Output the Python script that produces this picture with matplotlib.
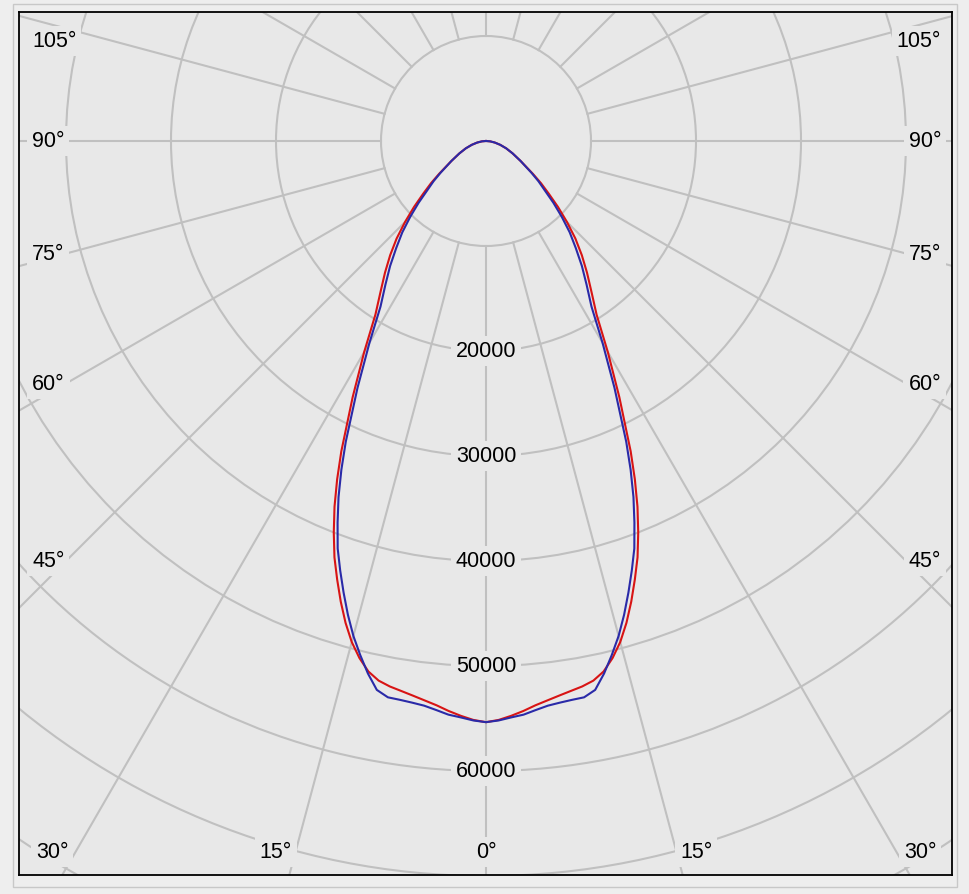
import numpy as np
import matplotlib.pyplot as plt
from matplotlib.patches import Circle, Rectangle

# luminous intensity (cd) vs angle from nadir (deg), symmetric C0-C180 plane
gamma = [0, 1.25, 2.5, 3.75, 5, 6.25, 7.5, 8.75, 10, 11.25, 12.5, 13.75, 15,
         16.25, 17.5, 18.75, 20, 21.25, 22.5, 23.75, 25, 27.5, 30, 32.5, 35,
         37.5, 40, 42.5, 45, 47.5, 50, 52.5, 55, 60, 65, 70, 75, 80, 85, 90]
i_red = [55350, 55150, 54800, 54400, 53950, 53600, 53280, 53000, 52750, 52400,
         51750, 50700, 49400, 47800, 46000, 44100, 42200, 40000, 37700, 35200,
         32600, 27500, 23200, 19600, 17500, 15800, 14200, 12600, 10900, 9300,
         7800, 6600, 5450, 3800, 2800, 2050, 1400, 850, 400, 0]
i_blue = [55350, 55200, 54950, 54750, 54400, 54100, 53950, 53850, 53800, 53300,
          51950, 50400, 48800, 47000, 45100, 43200, 41300, 39000, 36700, 34200,
          31600, 26500, 22200, 18700, 16700, 15000, 13300, 11800, 10200, 8700,
          7300, 6300, 5300, 3800, 2800, 2050, 1400, 850, 400, 0]

ring_values = [10000, 20000, 30000, 40000, 50000, 60000, 70000, 80000, 90000]
ring_labels = [20000, 30000, 40000, 50000, 60000]
side_angles = [105, 90, 75, 60, 45]
bottom_angles = [30, 15, 0]

plt.rcParams['font.family'] = ['Liberation Sans', 'DejaVu Sans']

W, H = 969, 895
fig = plt.figure(figsize=(W / 100, H / 100), dpi=100, facecolor='#eeeeee')

# frame and pole position in pixels
fl, fr, ft, fb = 19, 952, 13, 876
cx, cy = 486, 142
px = 10000 / 105.0  # cd per pixel

fig.patches.append(Rectangle((13 / W, 1 - 888 / H), 944 / W, 883 / H,
                             transform=fig.transFigure, fill=False,
                             ec='#c8c8c8', lw=1))

ax = fig.add_axes([fl / W, 1 - fb / H, (fr - fl) / W, (fb - ft) / H])
ax.set_xlim((fl - cx) * px, (fr - cx) * px)
ax.set_ylim(-(fb - cy) * px, (cy - ft) * px)
ax.set_facecolor('#e8e8e8')
ax.set_xticks([])
ax.set_yticks([])
for s in ax.spines.values():
    s.set_color('black')
    s.set_linewidth(1.3)

bg = '#e8e8e8'
gc = '#c0c0c0'
glw = 1.5

# grid: rings and spokes
for r in ring_values:
    ax.add_patch(Circle((0, 0), r, fill=False, ec=gc, lw=glw, zorder=1))
for a in range(0, 360, 15):
    t = np.radians(a)
    ax.plot([10000 * np.sin(t), 100000 * np.sin(t)],
            [-10000 * np.cos(t), -100000 * np.cos(t)],
            color=gc, lw=glw, zorder=1)

# curves
g = np.array(gamma, dtype=float)
ang = np.radians(np.concatenate([-g[::-1], g[1:]]))
for vals, col in [(i_red, '#d81414'), (i_blue, '#2a2aa8')]:
    v = np.array(vals, dtype=float)
    I = np.concatenate([v[::-1], v[1:]])
    ax.plot(I * np.sin(ang), -I * np.cos(ang), color=col, lw=1.5,
            solid_joinstyle='round', zorder=3)

box = dict(fc=bg, ec='none', pad=3.5)
fs = 15.5

for v in ring_labels:
    ax.text(0, -v, str(v), ha='center', va='center', fontsize=fs,
            bbox=box, zorder=4)

for a in side_angles:
    if a == 90:
        y_px = cy
    else:
        y_px = cy + 420 / np.tan(np.radians(a))
    y_px = max(y_px, ft + 29)
    yd = (cy - y_px) * px
    ax.text((32 - cx) * px, yd, f'{a}°', ha='left', va='center',
            fontsize=fs, bbox=box, zorder=4)
    ax.text((941 - cx) * px, yd, f'{a}°', ha='right', va='center',
            fontsize=fs, bbox=box, zorder=4)

for a in bottom_angles:
    dx = min(784 * np.tan(np.radians(a)), 434)
    yd = (cy - 853) * px
    ax.text(-dx * px, yd, f'{a}°', ha='center', va='center', fontsize=fs,
            bbox=box, zorder=4)
    if a != 0:
        ax.text(dx * px, yd, f'{a}°', ha='center', va='center', fontsize=fs,
                bbox=box, zorder=4)

fig.savefig('out.png', dpi=100, facecolor=fig.get_facecolor())
